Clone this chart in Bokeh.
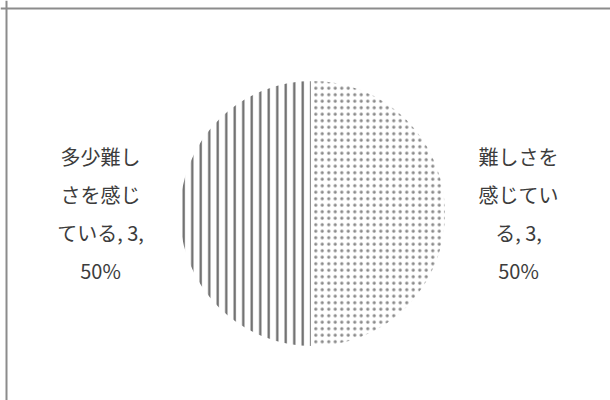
from math import pi
import numpy as np
from bokeh.plotting import figure
from bokeh.models import Range1d, Span, ColumnDataSource
from bokeh.core.properties import value
from bokeh.embed import file_html
from bokeh.resources import INLINE

# data
categories = ["難しさを感じている", "多少難しさを感じている"]
counts = [3, 3]
percents = ["50%", "50%"]
label_lines = [
    ["難しさを", "感じてい", "る, 3,", "50%"],
    ["多少難し", "さを感じ", "ている, 3,", "50%"],
]

total = sum(counts)
fracs = np.array(counts) / total
ends = np.cumsum(fracs) * 2 * pi
starts = np.concatenate([[0.0], ends[:-1]])
# clockwise from 12 o'clock
start_angles = pi / 2 - starts
end_angles = pi / 2 - ends

W, H = 610, 400
p = figure(width=W, height=H, output_backend="svg", toolbar_location=None,
           x_range=Range1d(-312, 298), y_range=Range1d(-187, 213),
           min_border=0, outline_line_color=None)
p.axis.visible = False
p.grid.visible = False
p.background_fill_color = "white"
p.border_fill_color = "white"

R = 134
hatches = [".", "|"]
scales = [6.5, 8.5]
weights = [1.6, 2.2]
hcolors = ["#8a8a8a", "#666666"]
for i in range(len(counts)):
    p.wedge(x=0, y=0, radius=R, start_angle=end_angles[i], end_angle=start_angles[i],
            fill_color="white", line_color="white", line_width=3,
            hatch_pattern=hatches[i], hatch_scale=scales[i], hatch_weight=weights[i],
            hatch_color=hcolors[i])

# labels
label_x = [206, -212]
for i, lines in enumerate(label_lines):
    n = len(lines)
    ys = [(n - 1) / 2 * 38 - k * 38 for k in range(n)]
    src = ColumnDataSource(dict(x=[label_x[i]] * n, y=ys, t=lines))
    p.text(x="x", y="y", text="t", source=src, text_align="center", text_baseline="middle",
           text_font=value("Noto Sans CJK JP"), text_font_size="20px", text_color="#3c3c3c")

# border (chart area box extends beyond window on right/bottom)
p.add_layout(Span(location=205, dimension="width", line_color="#8c8c8c", line_width=2))
p.add_layout(Span(location=-306, dimension="height", line_color="#8c8c8c", line_width=2))

open("out.html", "w").write(file_html(p, INLINE))
